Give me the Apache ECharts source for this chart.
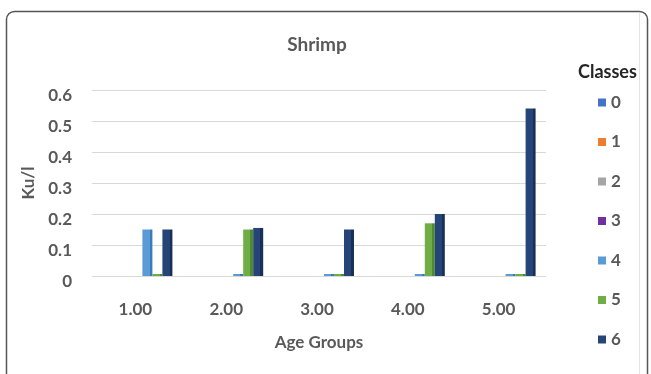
<!DOCTYPE html>
<html>
<head>
<meta charset="utf-8">
<script src="https://cdn.jsdelivr.net/npm/echarts@6/dist/echarts.min.js"></script>
<style>
html,body{margin:0;padding:0;background:#fff;}
#c{width:651px;height:374px;}
</style>
</head>
<body>
<div id="c"></div>
<script>
var categories = ['1.00', '2.00', '3.00', '4.00', '5.00'];
var seriesNames = ['0', '1', '2', '3', '4', '5', '6'];
var class0 = [null, null, null, null, null];
var class1 = [null, null, null, null, null];
var class2 = [null, null, null, null, null];
var class3 = [null, null, null, null, null];
var class4 = [0.15, 0, 0, 0, 0];
var class5 = [0, 0.15, 0, 0.17, 0];
var class6 = [0.15, 0.155, 0.15, 0.2, 0.54];
var yTicks = [0, 0.1, 0.2, 0.3, 0.4, 0.5, 0.6];

var allData = [class0, class1, class2, class3, class4, class5, class6];
var colors = ['#4472C4', '#ED7D31', '#A5A5A5', '#7030A0', '#5B9BD5', '#70AD47', '#264478'];
var sideColors = ['#2F5597', '#C55A11', '#7F7F7F', '#4E2272', '#3B7CB8', '#4E8A30', '#1A2F55'];
var txt = '#595959';
var font = 'Lato';

var chart = echarts.init(document.getElementById('c'));
var series = seriesNames.map(function (n, i) {
  return {
    name: n,
    type: 'bar',
    data: allData[i],
    barWidth: 10,
    barGap: '0%',
    barMinHeight: 2,
    itemStyle: {
      color: {
        type: 'linear', x: 0, y: 0, x2: 1, y2: 0,
        colorStops: [
          {offset: 0, color: colors[i]},
          {offset: 0.72, color: colors[i]},
          {offset: 0.72, color: sideColors[i]},
          {offset: 1, color: sideColors[i]}
        ]
      }
    }
  };
});

chart.setOption({
  animation: false,
  backgroundColor: '#fff',
  textStyle: {fontFamily: font},
  title: {
    text: 'Shrimp',
    left: 312, top: 30,
    textAlign: 'center',
    textStyle: {fontFamily: font, fontSize: 19, fontWeight: 'bold', color: txt}
  },
  graphic: [
    {type: 'rect', shape: {x: 6.5, y: 11.5, width: 641, height: 420, r: 8}, style: {fill: 'none', stroke: '#555', lineWidth: 1.5}, silent: true},
    {type: 'line', shape: {x1: 639.5, y1: 13, x2: 639.5, y2: 374}, style: {stroke: '#E3E3E3', lineWidth: 1}, silent: true},
    {type: 'text', left: 578, top: 63, style: {text: 'Classes', font: 'bold 18px Lato', fill: '#262626'}}
  ],
  legend: {
    orient: 'vertical',
    left: 593, top: 89,
    itemWidth: 8, itemHeight: 8,
    itemGap: 22.5,
    icon: 'rect',
    textStyle: {fontFamily: font, fontSize: 17, fontWeight: 'bold', color: txt, lineHeight: 16},
    data: seriesNames.map(function (n, i) { return {name: n, itemStyle: {color: colors[i]}}; })
  },
  grid: {left: 92, right: 105, top: 90, bottom: 98},
  xAxis: {
    type: 'category',
    data: categories,
    name: 'Age Groups',
    nameLocation: 'middle',
    nameGap: 58,
    nameTextStyle: {fontFamily: font, fontSize: 17, fontWeight: 'bold', color: txt},
    axisLine: {show: false},
    axisTick: {show: false},
    axisLabel: {margin: 25, fontFamily: font, fontSize: 17, fontWeight: 'bold', color: txt, padding: [0, 4, 0, 0]}
  },
  yAxis: {
    type: 'value',
    min: 0, max: 0.6, interval: 0.1,
    name: 'Ku/l',
    nameLocation: 'middle',
    nameRotate: 90,
    nameGap: 52,
    nameTextStyle: {fontFamily: font, fontSize: 17, fontWeight: 'bold', color: txt},
    axisLine: {show: false},
    axisTick: {show: false},
    splitLine: {lineStyle: {color: '#D9D9D9', width: 1}},
    axisLabel: {
      margin: 20, fontFamily: font, fontSize: 17, fontWeight: 'bold', color: txt,
      verticalAlign: 'top', lineHeight: 12,
      formatter: function (v) { var k = yTicks.indexOf(Math.round(v * 10) / 10); return k >= 0 ? String(yTicks[k]) : ''; }
    }
  },
  series: series
});
</script>
</body>
</html>
